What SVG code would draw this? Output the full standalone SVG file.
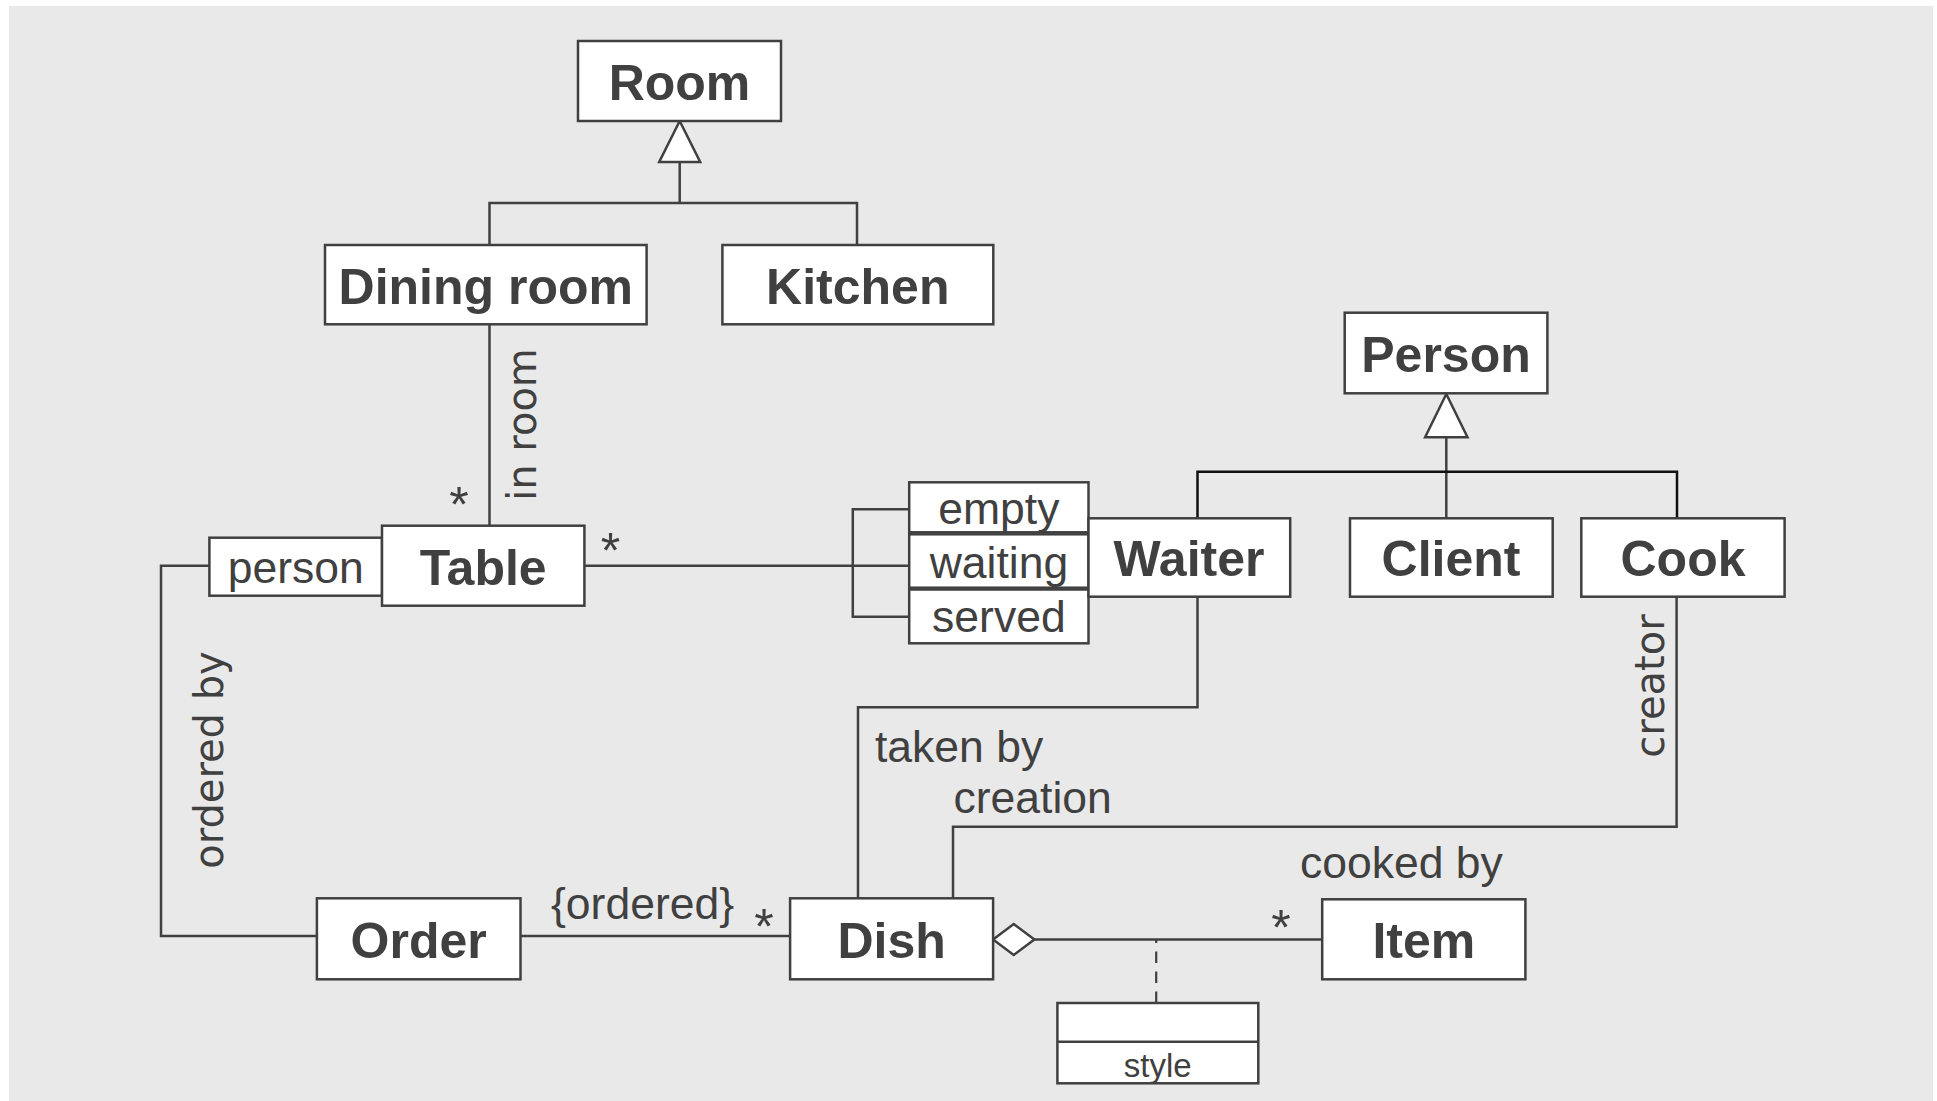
<svg xmlns="http://www.w3.org/2000/svg" width="1937" height="1101" viewBox="0 0 1937 1101">
  <style>
    .box { fill: #ffffff; stroke: #404040; stroke-width: 2.5; }
    .ln { fill: none; stroke: #404040; stroke-width: 2.5; }
    .ln-dark { fill: none; stroke: #101010; stroke-width: 2.5; }
    .dash { fill: none; stroke: #404040; stroke-width: 2.2; stroke-dasharray: 11.5 8.5; }
    .head { fill: #ffffff; stroke: #404040; stroke-width: 2.5; stroke-linejoin: miter; }
    .cls { font-family: "Liberation Sans", Arial, sans-serif; font-weight: bold; font-size: 50px; fill: #404040; text-anchor: middle; }
    .lbl { font-family: "Liberation Sans", Arial, sans-serif; font-size: 44.5px; fill: #404040; }
    .mid { text-anchor: middle; }
    .vlbl { font-family: "DejaVu Sans", Verdana, sans-serif; font-size: 40px; fill: #404040; text-anchor: middle; }
    .mult { font-family: "Liberation Sans", Arial, sans-serif; font-size: 50px; fill: #404040; text-anchor: middle; }
    .small { font-family: "Liberation Sans", Arial, sans-serif; font-size: 33px; fill: #404040; text-anchor: middle; }
  </style>

  <!-- canvas -->
  <rect x="0" y="0" width="1937" height="1101" fill="#ffffff"/>
  <rect x="9" y="6" width="1924" height="1095" fill="#e9e9e9"/>

  <!-- connectors -->
  <g id="connectors">
    <!-- Room generalization -->
    <polyline class="ln" points="679.7,162 679.7,203"/>
    <polyline class="ln" points="489.5,245 489.5,203 857,203 857,245"/>
    <polygon class="head" points="679.7,121 700.2,162 659.2,162"/>

    <!-- Dining room : Table (in room) -->
    <line class="ln" x1="489.5" y1="324.3" x2="489.5" y2="525.7"/>

    <!-- Table : Waiter with qualifier compartments -->
    <line class="ln" x1="584.4" y1="565.7" x2="852.8" y2="565.7"/>
    <polyline class="ln" points="909.2,509.3 852.8,509.3 852.8,616.7 909.2,616.7"/>
    <line class="ln" x1="852.8" y1="565.7" x2="909.2" y2="565.7"/>

    <!-- Table : Order (ordered by) -->
    <polyline class="ln" points="209.4,565.7 161,565.7 161,936 316.9,936"/>

    <!-- Order : Dish -->
    <line class="ln" x1="520.5" y1="936" x2="790.1" y2="936"/>

    <!-- Dish : Waiter (taken by) -->
    <polyline class="ln" points="858,898.3 858,707.3 1197.5,707.3 1197.5,596.7"/>

    <!-- Dish : Cook (creation / creator) -->
    <polyline class="ln" points="953,898.3 953,826.7 1676.6,826.7 1676.6,596.7"/>

    <!-- Dish <>- Item aggregation -->
    <line class="ln" x1="1034.4" y1="939.5" x2="1322.2" y2="939.5"/>
    <polygon class="head" points="993.1,939.5 1013.7,924 1034.4,939.5 1013.7,955"/>

    <!-- association class link -->
    <line class="dash" x1="1156.2" y1="1003" x2="1156.2" y2="939.5"/>

    <!-- Person generalization -->
    <line class="ln" x1="1446.3" y1="437.3" x2="1446.3" y2="518.3"/>
    <polyline class="ln-dark" points="1197.5,518.3 1197.5,471.7 1677,471.7 1677,518.3"/>
    <polygon class="head" points="1446.3,394 1467.5,437.3 1425.1,437.3"/>
  </g>

  <!-- connector labels -->
  <g id="labels">
    <text class="vlbl" transform="translate(536,424.5) rotate(-90)">in room</text>
    <text class="vlbl" transform="translate(222.5,760) rotate(-90)">ordered by</text>
    <text class="vlbl" transform="translate(1663.5,686) rotate(-90)">creator</text>
    <text class="lbl" x="875" y="761.7">taken by</text>
    <text class="lbl" x="953.5" y="813">creation</text>
    <text class="lbl" x="1300" y="877.7">cooked by</text>
    <text class="lbl" x="551" y="919">{ordered}</text>
    <text class="mult" x="459" y="522">*</text>
    <text class="mult" x="610.6" y="568">*</text>
    <text class="mult" x="764" y="943.7">*</text>
    <text class="mult" x="1281" y="944.7">*</text>
  </g>

  <!-- classes -->
  <g id="room">
    <rect class="box" x="578" y="41" width="203" height="80"/>
    <text class="cls" x="679.5" y="100">Room</text>
  </g>
  <g id="dining-room">
    <rect class="box" x="325" y="245" width="321.6" height="79.3"/>
    <text class="cls" x="485.8" y="304">Dining room</text>
  </g>
  <g id="kitchen">
    <rect class="box" x="722.4" y="245" width="270.9" height="79.3"/>
    <text class="cls" x="857.8" y="304">Kitchen</text>
  </g>
  <g id="person">
    <rect class="box" x="1344.7" y="312.7" width="202.7" height="80.6"/>
    <text class="cls" x="1446" y="372">Person</text>
  </g>
  <g id="table">
    <rect class="box" x="209.4" y="537.7" width="172.6" height="58"/>
    <text class="lbl mid" x="295.7" y="583">person</text>
    <rect class="box" x="382" y="525.7" width="202.4" height="80"/>
    <text class="cls" x="483.2" y="585">Table</text>
  </g>
  <g id="qualifiers">
    <rect class="box" x="909.2" y="482.3" width="179.3" height="50"/>
    <text class="lbl mid" x="998.9" y="524.3">empty</text>
    <rect class="box" x="909.2" y="534.3" width="179.3" height="53.4"/>
    <text class="lbl mid" x="998.9" y="578">waiting</text>
    <rect class="box" x="909.2" y="589.5" width="179.3" height="53.8"/>
    <text class="lbl mid" x="998.9" y="631.7">served</text>
  </g>
  <g id="waiter">
    <rect class="box" x="1088.5" y="518.3" width="201.7" height="78.4"/>
    <text class="cls" x="1189" y="576">Waiter</text>
  </g>
  <g id="client">
    <rect class="box" x="1350" y="518.3" width="202.7" height="78.4"/>
    <text class="cls" x="1451" y="576">Client</text>
  </g>
  <g id="cook">
    <rect class="box" x="1581.3" y="518.3" width="203.3" height="78.4"/>
    <text class="cls" x="1683" y="576">Cook</text>
  </g>
  <g id="order">
    <rect class="box" x="316.9" y="898.3" width="203.6" height="81"/>
    <text class="cls" x="418.7" y="957.5">Order</text>
  </g>
  <g id="dish">
    <rect class="box" x="790.1" y="898.3" width="203" height="81"/>
    <text class="cls" x="891.6" y="957.5">Dish</text>
  </g>
  <g id="item">
    <rect class="box" x="1322.2" y="899.3" width="203.2" height="80"/>
    <text class="cls" x="1423.8" y="958.3">Item</text>
  </g>
  <g id="style-class">
    <rect class="box" x="1057.4" y="1003" width="200.9" height="80.3"/>
    <line class="ln" x1="1057.4" y1="1041.7" x2="1258.3" y2="1041.7"/>
    <text class="small" x="1157.8" y="1076.5">style</text>
  </g>
</svg>
